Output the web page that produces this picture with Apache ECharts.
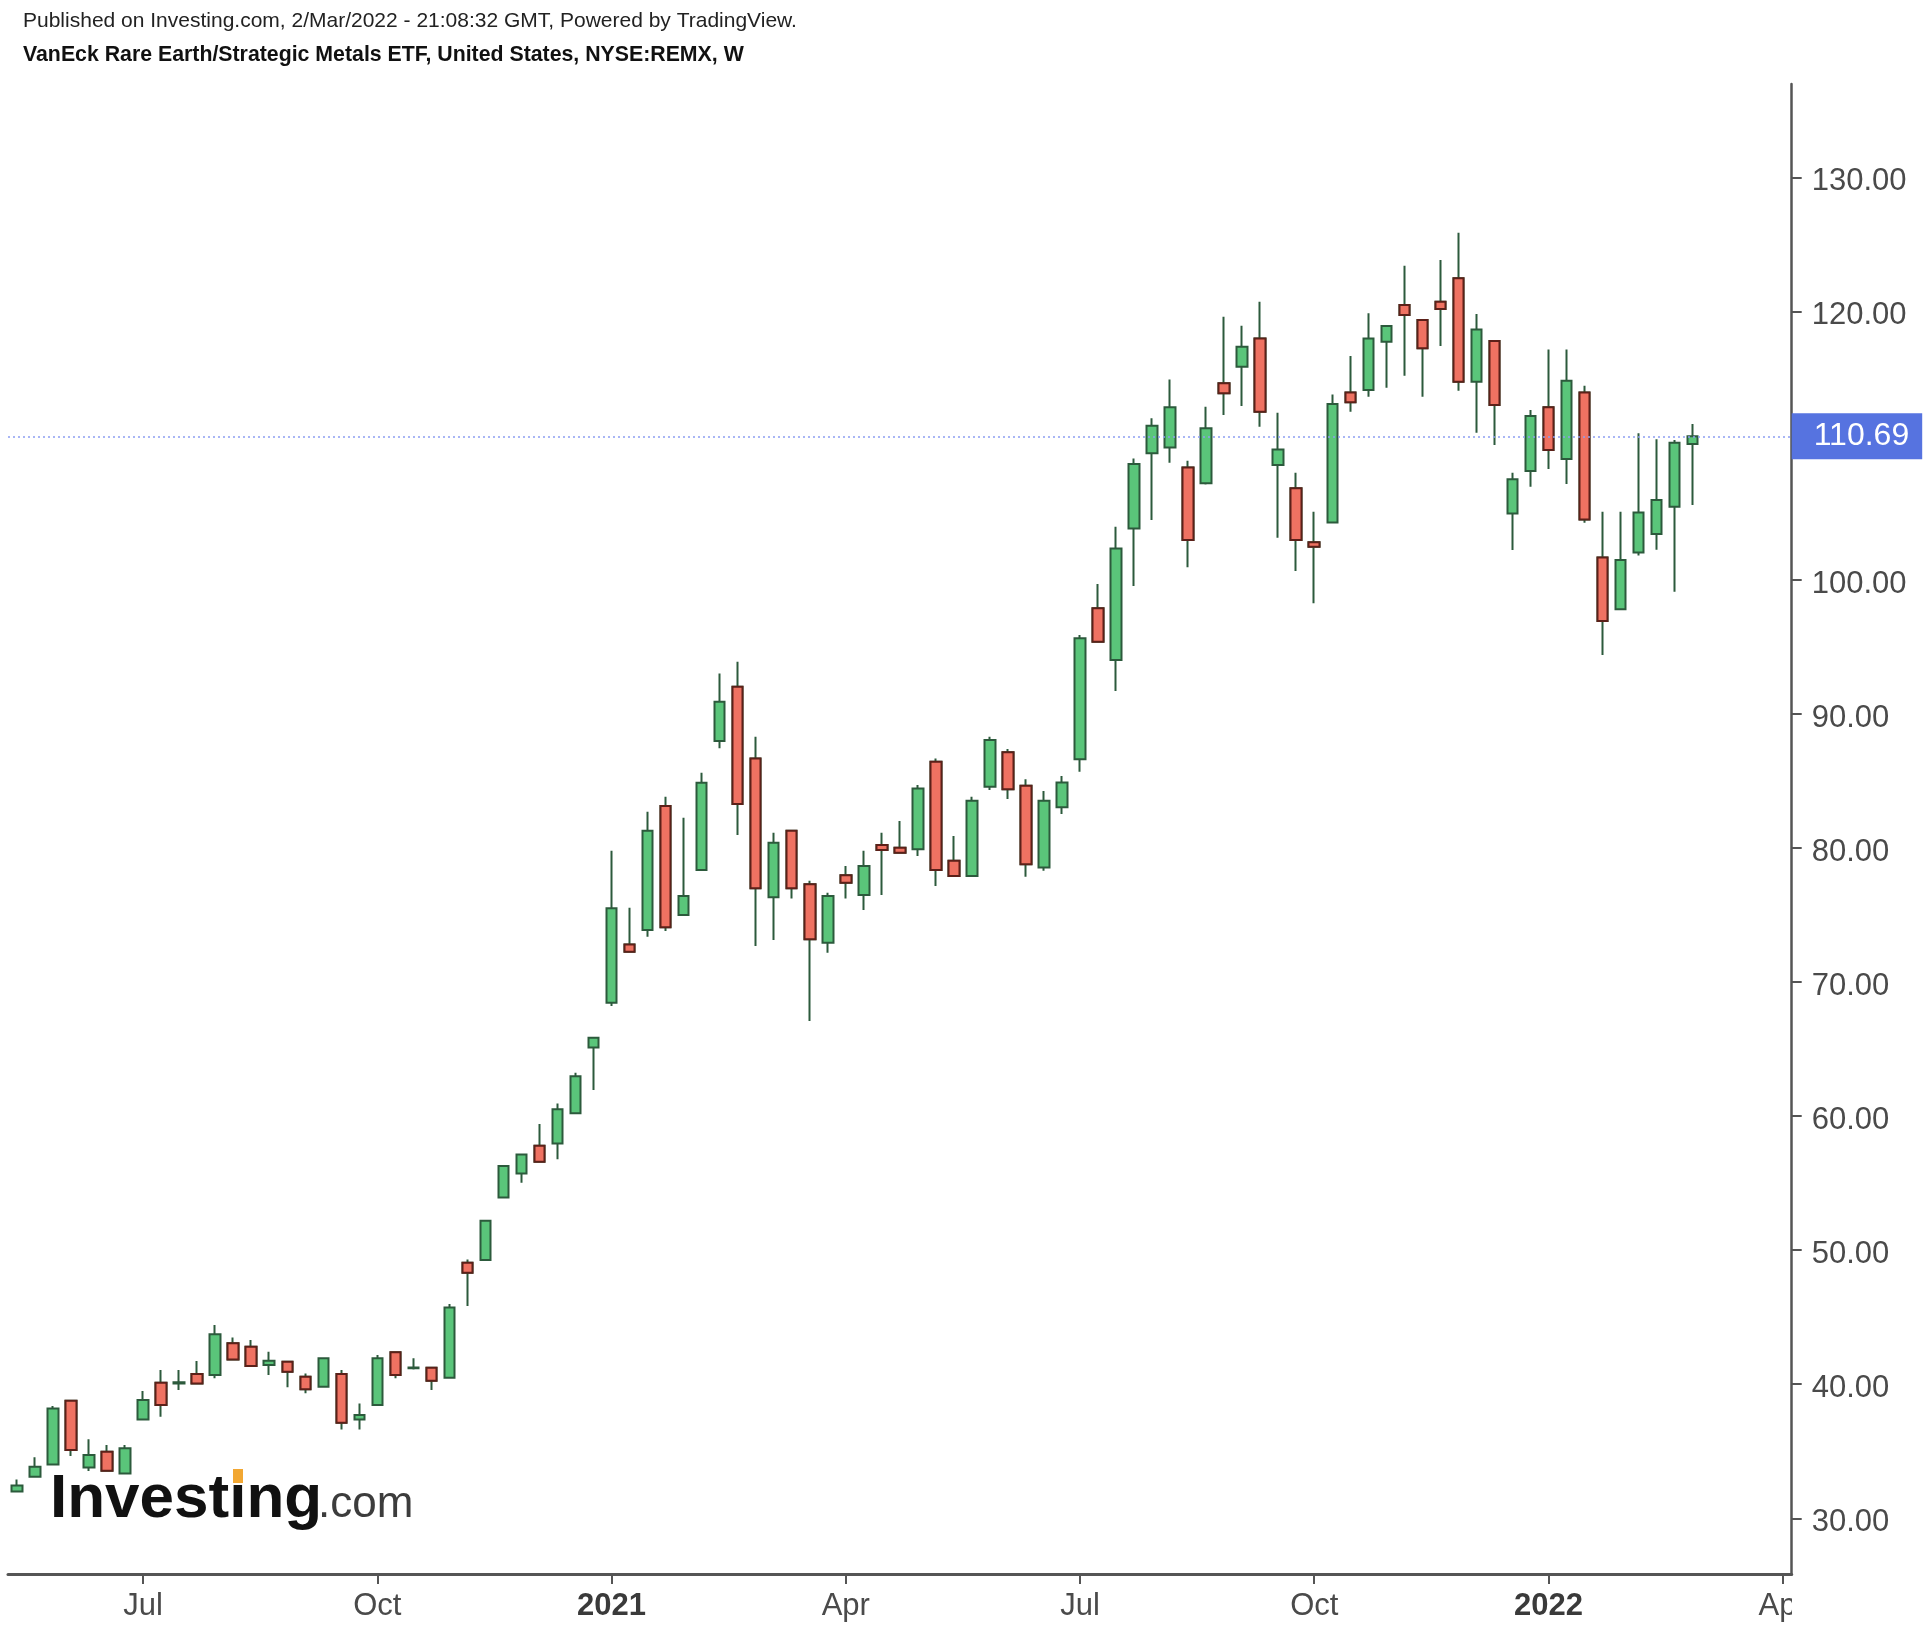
<!DOCTYPE html>
<html><head><meta charset="utf-8">
<script src="https://cdn.jsdelivr.net/npm/echarts@6/dist/echarts.min.js"></script>
<style>html,body{margin:0;padding:0;background:#fff}#c{width:1931px;height:1637px}</style>
</head><body><div id="c"></div>
<script>
// ---- data ----
const firstWeek = '2020-05-18';   // first weekly bar (Monday)
const weekSlots = 99;             // bars on the axis incl. empty slots up to Apr 2022
const opens  = [32.00,33.10,34.02,38.77,33.80,34.97,33.35,37.38,40.11,40.05,40.76,40.69,43.05,42.80,41.43,41.68,40.56,39.82,40.76,37.38,38.45,42.38,41.20,41.23,40.49,49.06,49.26,53.93,55.72,57.79,57.96,60.20,65.12,68.45,72.79,73.87,83.12,74.99,78.35,87.96,92.02,86.67,76.31,81.28,77.28,72.93,77.95,76.48,80.21,80.01,79.89,86.42,79.04,77.90,84.56,87.12,84.63,78.54,83.02,86.60,97.86,94.00,103.82,109.42,109.86,108.37,107.18,114.64,115.88,117.99,108.55,106.81,102.78,104.27,113.96,114.14,117.74,120.48,119.36,120.72,122.47,114.76,117.79,104.94,108.10,112.85,108.99,113.96,101.66,97.80,102.03,103.40,105.44,110.11];
const closes = [32.45,33.85,38.20,35.09,34.72,33.55,35.22,38.82,38.45,40.15,40.06,43.72,41.85,41.36,41.75,40.93,39.62,41.93,37.13,37.70,41.93,40.69,41.25,40.26,45.73,48.32,52.19,56.27,57.14,56.59,60.50,62.96,65.84,75.49,72.25,81.28,74.07,76.41,84.86,90.90,83.27,76.98,80.38,76.98,73.18,76.41,77.40,78.64,79.84,79.64,84.43,78.35,77.90,83.52,88.04,84.36,78.77,83.51,84.88,95.62,95.37,102.33,108.62,111.48,112.85,102.95,111.28,113.89,117.37,112.52,109.71,102.95,102.46,113.09,113.22,117.99,118.91,119.73,117.25,120.18,114.76,118.66,113.02,107.48,112.20,109.66,114.83,104.49,96.92,101.46,105.00,105.94,110.21,110.69];
const lows   = [31.95,33.05,34.00,34.65,33.53,33.50,33.30,37.35,37.58,39.57,40.00,40.44,41.80,41.30,40.69,39.77,39.32,39.80,36.63,36.63,38.40,40.44,41.10,39.57,40.45,45.83,49.20,53.90,55.03,56.55,56.77,60.15,61.94,68.20,72.20,73.37,73.80,74.95,78.30,87.42,80.95,72.68,73.13,76.23,67.08,72.18,76.23,75.36,76.48,79.60,79.39,77.15,77.85,77.85,84.31,83.64,77.85,78.29,82.52,85.68,95.30,91.69,99.52,104.44,108.72,100.92,107.10,112.27,112.94,111.40,103.13,100.64,98.23,104.20,112.52,113.64,114.31,115.21,113.64,117.42,114.09,110.96,110.04,102.21,106.93,108.25,107.13,104.24,94.38,97.75,101.80,102.23,99.10,105.56];
const highs  = [32.90,34.55,38.37,38.80,35.89,35.47,35.47,39.49,41.06,41.06,41.73,44.41,43.49,43.30,42.43,41.70,40.81,41.95,41.06,38.57,42.18,42.40,41.93,41.25,45.98,49.31,52.20,56.30,57.20,59.40,60.94,63.23,65.90,79.79,75.54,82.70,83.81,82.25,85.60,93.01,93.88,88.29,81.13,81.30,77.55,76.65,78.64,79.79,81.13,82.00,84.68,86.67,80.88,83.81,88.29,87.37,85.11,84.23,85.35,95.87,99.67,103.95,109.04,112.03,114.93,108.87,112.90,119.61,118.94,120.73,112.45,107.97,105.07,113.81,116.67,119.86,118.95,123.41,119.40,123.83,125.87,119.81,117.80,107.97,112.65,117.17,117.17,114.46,105.07,105.07,110.91,110.46,110.41,111.60];
const tickDates  = ['2020-07-06','2020-10-05','2021-01-04','2021-04-05','2021-07-05','2021-10-04','2022-01-03','2022-04-04'];
const tickLabels = ['Jul','Oct','2021','Apr','Jul','Oct','2022','Apr'];
const priceTicks = [30,40,50,60,70,80,90,100,110,120,130];
const lastPrice = 110.69;

// ---- build ----
const FONT = "'Liberation Sans', Arial, sans-serif";
const weeks = [];
{
  const d0 = new Date(firstWeek + 'T00:00:00Z');
  for (let i = 0; i < weekSlots; i++) {
    const d = new Date(d0.getTime() + i * 7 * 86400000);
    weeks.push(d.toISOString().slice(0, 10));
  }
}
const n = opens.length;
// full candles (bodies + wicks, wicks drawn dark green for all)
const candles = weeks.map((w, i) => i < n ? [opens[i], closes[i], lows[i], highs[i]] : '-');
// falling bodies only (no wick) drawn on top with their dark-red outline
const fallBodies = weeks.map((w, i) => (i < n && closes[i] < opens[i])
  ? [opens[i], closes[i], closes[i], opens[i]] : '-');
const tickMap = {};
tickDates.forEach((d, i) => { tickMap[d] = tickLabels[i]; });
const isTick = (idx, val) => tickMap[val] !== undefined;

const chart = echarts.init(document.getElementById('c'), null, {renderer: 'canvas'});
chart.setOption({
  animation: false,
  backgroundColor: '#ffffff',
  grid: {left: 8, right: 139.3, top: 84, bottom: 63, containLabel: false},
  xAxis: {
    type: 'category',
    data: weeks,
    boundaryGap: true,
    axisLine: {show: true, lineStyle: {color: '#555555', width: 3}},
    axisTick: {show: true, alignWithLabel: true, interval: isTick, length: 10, lineStyle: {color: '#555555', width: 2}},
    axisLabel: {
      interval: isTick, margin: 17, fontSize: 31, fontFamily: FONT, color: '#4a4a4a',
      formatter: v => {
        const t = tickMap[v] || '';
        return /^\d{4}$/.test(t) ? '{b|' + t + '}' : t;
      },
      rich: {b: {fontWeight: 'bold', fontSize: 31, fontFamily: FONT, color: '#3a3a3a'}}
    },
    splitLine: {show: false}
  },
  yAxis: {
    type: 'value',
    position: 'right',
    min: 25.85, max: 136.96,
    axisLine: {show: true, lineStyle: {color: '#555555', width: 2.5}},
    axisTick: {show: true, length: 10, customValues: priceTicks, lineStyle: {color: '#555555', width: 2}},
    axisLabel: {margin: 20, customValues: priceTicks,
      formatter: v => '{s| }\n{a|' + v.toFixed(2) + '}',
      rich: {
        s: {fontSize: 2, lineHeight: 9},
        a: {fontSize: 31, lineHeight: 31, fontFamily: FONT, color: '#4a4a4a'}
      }},
    splitLine: {show: false}
  },
  series: [{
    type: 'candlestick',
    data: candles,
    barWidth: 11,
    itemStyle: {
      color: '#5ac57a', color0: '#ef7262',
      borderColor: '#2c5a3c', borderColor0: '#2c5a3c', borderColorDoji: '#2c5a3c',
      borderWidth: 2
    },
    markLine: {
      silent: true,
      symbol: ['none', 'none'],
      lineStyle: {color: '#8c9ef2', type: [2, 3], width: 1.5},
      label: {
        show: true, position: 'end', distance: 0,
        formatter: () => lastPrice.toFixed(2),
        backgroundColor: '#5673e0', color: '#ffffff', fontSize: 32, fontFamily: FONT,
        padding: [8, 13, 6, 22]
      },
      data: [{yAxis: lastPrice}]
    }
  }, {
    type: 'candlestick',
    data: fallBodies,
    barWidth: 11,
    z: 3,
    itemStyle: {
      color: '#ef7262', color0: '#ef7262',
      borderColor: '#5c2019', borderColor0: '#5c2019', borderColorDoji: '#5c2019',
      borderWidth: 2
    }
  }],
  graphic: [
    {type: 'text', x: 23, y: 21, z: 10, style: {text: 'Published on Investing.com, 2/Mar/2022 - 21:08:32 GMT, Powered by TradingView.', font: '21px ' + FONT, fill: '#222222', verticalAlign: 'middle'}},
    {type: 'text', x: 23, y: 55, z: 10, style: {text: 'VanEck Rare Earth/Strategic Metals ETF, United States, NYSE:REMX, W', font: 'bold 21.3px ' + FONT, fill: '#111111', verticalAlign: 'middle'}},
    {type: 'text', x: 50, y: 1469, z: 10, style: {text: 'Investing', font: 'bold 62px ' + FONT, fill: '#111111'}},
    {type: 'rect', x: 233, y: 1469, z: 11, shape: {width: 10, height: 14}, style: {fill: '#f2a732'}},
    {type: 'text', x: 318, y: 1483, z: 10, style: {text: '.com', font: '44px ' + FONT, fill: '#3c3c3c'}},
    {type: 'rect', x: 1792, y: 1577, z: 100, shape: {width: 140, height: 60}, style: {fill: '#ffffff'}}
  ]
});
</script>
</body></html>
